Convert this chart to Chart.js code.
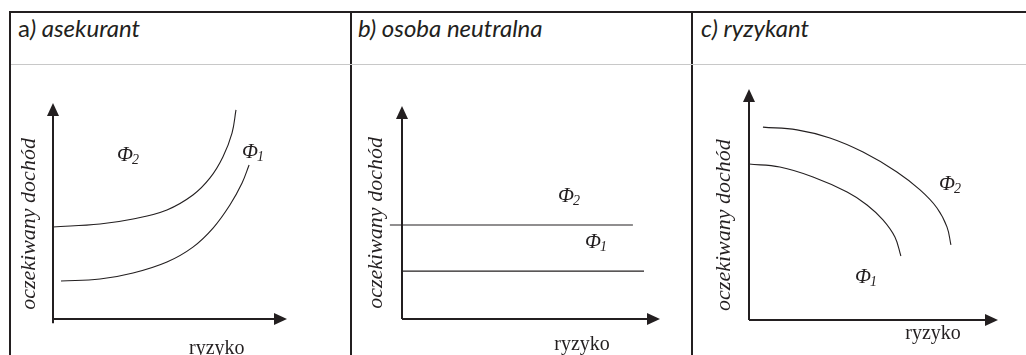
<!DOCTYPE html>
<html>
<head>
<meta charset="utf-8">
<script src="https://cdn.jsdelivr.net/npm/chart.js@4.4.0/dist/chart.umd.min.js"></script>
<style>
  html, body { margin: 0; padding: 0; background: #fff; }
  #page { position: relative; width: 1026px; height: 355px; overflow: hidden; }
  canvas { position: absolute; }
  .rule { position: absolute; background: #231f20; }
  .grey { position: absolute; background: #c8c8c8; }
  .head { position: absolute; top: 13px; line-height: 27px; font: italic 24px Lato, sans-serif; color: #231f20; white-space: nowrap; }
</style>
</head>
<body>
<div id="page">
  <canvas id="ca" width="339" height="290" style="left:11px;top:65px"></canvas>
  <canvas id="cb" width="339" height="290" style="left:352px;top:65px"></canvas>
  <canvas id="cc" width="333" height="290" style="left:693px;top:65px"></canvas>

  <div class="rule" style="left:9px;top:11px;width:1017px;height:2px"></div>
  <div class="rule" style="left:9px;top:11px;width:2px;height:344px"></div>
  <div class="rule" style="left:350px;top:11px;width:2px;height:344px"></div>
  <div class="rule" style="left:691px;top:11px;width:2px;height:344px"></div>
  <div class="grey" style="left:11px;top:64px;width:1015px;height:1px"></div>

  <div class="head" style="left:18px"><span style="font-style:normal">a</span>) asekurant</div>
  <div class="head" style="left:358px">b) osoba neutralna</div>
  <div class="head" style="left:701px">c) ryzykant</div>
</div>

<script>
const ink = "#231f20";

// --- values (each axis is 100 units long) ---
// a) asekurant: indifference curves rising with risk
const aPhi2X = [0, 20.1, 34.2, 48.7, 59.8, 67.1, 72.6, 76.5, 78.2];
const aPhi2Y = [42.6, 44.0, 46.3, 50.5, 57.4, 65.3, 75.0, 86.1, 96.8];
const aPhi1X = [3.4, 20.1, 34.2, 48.7, 59.8, 68.4, 75.6, 80.8, 83.8];
const aPhi1Y = [17.6, 18.5, 21.3, 26.4, 33.3, 42.1, 52.8, 63.0, 71.3];

// b) osoba neutralna: flat lines
const bPhi2X = [-4.7, 89.5];
const bPhi2Y = [44.1, 44.1];
const bPhi1X = [0, 93.8];
const bPhi1Y = [22.5, 22.5];

// c) ryzykant: curves falling with risk
const cPhi2X = [5.6, 19.3, 32.5, 45.8, 59.4, 68.7, 75.5, 79.5, 81.1];
const cPhi2Y = [83.5, 82.3, 78.8, 72.7, 64.1, 56.3, 48.5, 40.3, 32.5];
const cPhi1X = [0, 12.4, 25.7, 39.4, 47.4, 53.8, 58.6, 61.0];
const cPhi1Y = [67.5, 66.2, 61.9, 55.4, 49.8, 43.3, 35.9, 27.7];

// text
const yTitle = "oczekiwany dochód";
const xTitle = "ryzyko";
const curveNames = ["Φ", "Φ"];
const curveSubs = ["2", "1"];

// --- helpers ---
const toPoints = (xs, ys) => xs.map((x, i) => ({ x, y: ys[i] }));
const SERIF = '"Liberation Serif", "Times New Roman", serif';

function drawArrow(ctx, x1, y1, x2, y2) {
  const ang = Math.atan2(y2 - y1, x2 - x1);
  const len = 13, half = 6;
  const bx = x2 - len * Math.cos(ang), by = y2 - len * Math.sin(ang);
  ctx.beginPath();
  ctx.moveTo(x1, y1);
  ctx.lineTo(bx, by);
  ctx.lineWidth = 2;
  ctx.stroke();
  ctx.beginPath();
  ctx.moveTo(x2, y2);
  ctx.lineTo(bx + half * Math.sin(ang), by - half * Math.cos(ang));
  ctx.lineTo(bx - half * Math.sin(ang), by + half * Math.cos(ang));
  ctx.closePath();
  ctx.fill();
}

// axes with arrowheads + labels, all placed through the chart scales
const sketchPlugin = {
  id: "sketch",
  afterDatasetsDraw(chart, args, opts) {
    const { ctx } = chart;
    const xs = chart.scales.x, ys = chart.scales.y;
    const px = (v) => xs.getPixelForValue(v);
    const py = (v) => ys.getPixelForValue(v);
    ctx.save();
    ctx.strokeStyle = ink;
    ctx.fillStyle = ink;
    drawArrow(ctx, px(0), py(opts.yAxisFrom ?? 0), px(0), py(100));
    drawArrow(ctx, px(0), py(0), px(100), py(0));

    // curve labels Φ with subscripts
    ctx.textAlign = "left";
    ctx.textBaseline = "alphabetic";
    opts.phi.forEach((p, i) => {
      const x = px(p[0]), y = py(p[1]);
      ctx.font = "italic 21px " + SERIF;
      ctx.fillText(curveNames[i], x, y);
      const w = ctx.measureText(curveNames[i]).width;
      ctx.font = "italic 14px " + SERIF;
      ctx.fillText(curveSubs[i], x + w - 1, y + 3);
    });

    // x title
    ctx.font = "20px " + SERIF;
    ctx.textAlign = "center";
    ctx.fillText(xTitle, px(opts.xTitle[0]), py(opts.xTitle[1]));

    // y title (rotated)
    ctx.translate(px(opts.yTitle[0]), py(opts.yTitle[1]));
    ctx.rotate(-Math.PI / 2);
    ctx.font = "italic 22px " + SERIF;
    ctx.fillText(yTitle, 0, 0);
    ctx.restore();
  }
};

// canvas box, axis origin and axis ends in page pixels -> scale ranges
const panels = [
  {
    id: "ca", box: [11, 65, 339, 290], origin: [53, 319], end: [287, 103],
    series: [[aPhi2X, aPhi2Y], [aPhi1X, aPhi1Y]],
    sketch: { phi: [[27.4, 73.1], [80.8, 74.5]], xTitle: [70, -16.2], yTitle: [-7.7, 44.0], yAxisFrom: -2 }
  },
  {
    id: "cb", box: [352, 65, 339, 290], origin: [402, 319], end: [660, 106],
    series: [[bPhi2X, bPhi2Y], [bPhi1X, bPhi1Y]],
    sketch: { phi: [[60.5, 54.9], [70.9, 33.3]], xTitle: [69.8, -14.6], yTitle: [-7.8, 45.1] }
  },
  {
    id: "cc", box: [693, 65, 333, 290], origin: [749, 320], end: [998, 89],
    series: [[cPhi2X, cPhi2Y], [cPhi1X, cPhi1Y]],
    sketch: { phi: [[76.3, 56.3], [42.6, 16.0]], xTitle: [73.9, -8.2], yTitle: [-7.6, 41.1] }
  }
];

panels.forEach((p) => {
  const [L, T, W, H] = p.box;
  const [ox, oy] = p.origin;
  const [ex, ty] = p.end;
  const kx = 100 / (ex - ox), ky = 100 / (oy - ty);

  new Chart(document.getElementById(p.id), {
    type: "line",
    data: {
      datasets: p.series.map(([xs, ys]) => ({
        data: toPoints(xs, ys),
        borderColor: ink,
        borderWidth: 1.1,
        pointRadius: 0,
        tension: 0.4,
        fill: false
      }))
    },
    options: {
      responsive: false,
      animation: false,
      events: [],
      layout: { padding: 0 },
      plugins: {
        legend: { display: false },
        tooltip: { enabled: false },
        sketch: p.sketch
      },
      scales: {
        x: { type: "linear", display: false, min: (L - ox) * kx, max: (L + W - ox) * kx },
        y: { type: "linear", display: false, min: (oy - (T + H)) * ky, max: (oy - T) * ky }
      }
    },
    plugins: [sketchPlugin]
  });
});
</script>
</body>
</html>
